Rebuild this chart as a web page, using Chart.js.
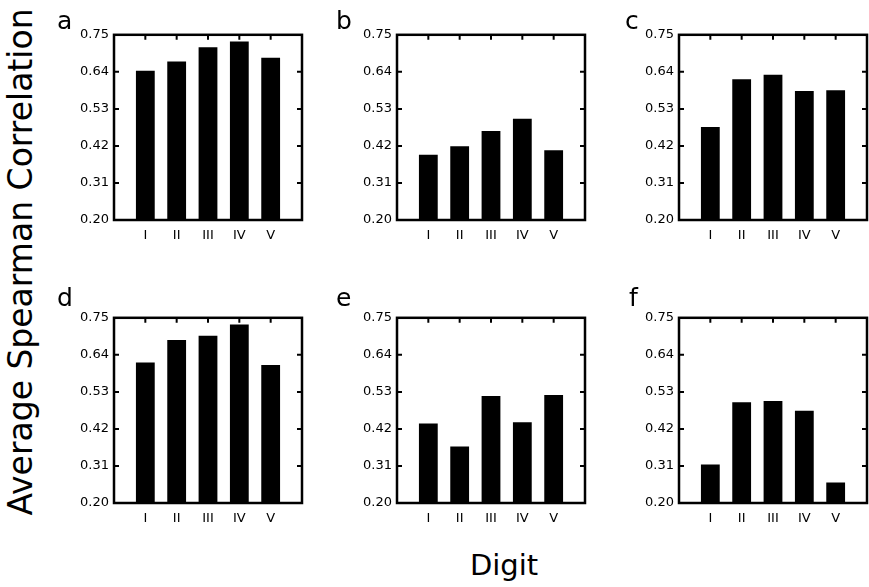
<!DOCTYPE html>
<html>
<head>
<meta charset="utf-8">
<script src="https://cdn.jsdelivr.net/npm/chart.js@4/dist/chart.umd.min.js"></script>
<style>
  html, body { margin: 0; padding: 0; background: #fff; }
  #page { position: relative; width: 869px; height: 587px; overflow: hidden; font-family: "DejaVu Sans", sans-serif; color: #000; }
  .panel { position: absolute; }
  .letter { position: absolute; font-size: 25px; line-height: 1; }
  #ytitle { position: absolute; left: 20px; top: 262px; font-size: 33px; line-height: 1; white-space: nowrap; transform: translate(-50%, -50%) rotate(-90deg); }
  #xtitle { position: absolute; left: 504px; top: 551px; font-size: 29px; line-height: 1; transform: translateX(-50%); }
</style>
</head>
<body>
<div id="page">
  <div id="ytitle">Average Spearman Correlation</div>
  <div id="xtitle">Digit</div>
</div>
<script>
// data
const digits = ["I", "II", "III", "IV", "V"];
const panelLetters = ["a", "b", "c", "d", "e", "f"];
const valuesA = [0.643, 0.671, 0.713, 0.730, 0.682];
const valuesB = [0.394, 0.419, 0.464, 0.501, 0.407];
const valuesC = [0.476, 0.618, 0.631, 0.583, 0.585];
const valuesD = [0.617, 0.684, 0.697, 0.730, 0.610];
const valuesE = [0.436, 0.368, 0.518, 0.440, 0.521];
const valuesF = [0.314, 0.499, 0.503, 0.474, 0.261];
const yTicks = [0.20, 0.31, 0.42, 0.53, 0.64, 0.75];

const allValues = [valuesA, valuesB, valuesC, valuesD, valuesE, valuesF];

// plot box of each panel: left, top, size
const boxes = [
  [114, 32], [397, 32], [679, 32],
  [114, 315], [397, 315], [679, 315]
];
const BOX = 188;
const letterPos = [
  [57, 8], [336, 8], [625, 8],
  [57, 285], [336, 285], [629, 285]
];
const TICK = 5;

const framePlugin = {
  id: "frame",
  afterDatasetsDraw(chart) {
    const { ctx, chartArea: a, scales: { x, y } } = chart;
    ctx.save();
    ctx.strokeStyle = "#000";
    ctx.lineWidth = 2.5;
    ctx.strokeRect(a.left, a.top, a.right - a.left, a.bottom - a.top);
    ctx.lineWidth = 2;
    ctx.beginPath();
    y.ticks.forEach((t) => {
      const py = y.getPixelForValue(t.value);
      if (py <= a.top + 1 || py >= a.bottom - 1) return;
      ctx.moveTo(a.left, py);
      ctx.lineTo(a.left + TICK, py);
      ctx.moveTo(a.right, py);
      ctx.lineTo(a.right - TICK, py);
    });
    digits.forEach((d, i) => {
      const px = x.getPixelForValue(i + 1);
      ctx.moveTo(px, a.top);
      ctx.lineTo(px, a.top + TICK);
    });
    ctx.stroke();
    ctx.restore();
  }
};

const page = document.getElementById("page");

allValues.forEach((vals, idx) => {
  const [bx, by] = boxes[idx];
  const wrap = document.createElement("div");
  wrap.className = "panel";
  wrap.style.left = (bx - 50) + "px";
  wrap.style.top = (by - 10) + "px";
  wrap.style.width = (BOX + 60) + "px";
  wrap.style.height = (BOX + 40) + "px";
  const canvas = document.createElement("canvas");
  wrap.appendChild(canvas);
  page.appendChild(wrap);

  const lt = document.createElement("div");
  lt.className = "letter";
  lt.textContent = panelLetters[idx];
  lt.style.left = letterPos[idx][0] + "px";
  lt.style.top = letterPos[idx][1] + "px";
  page.appendChild(lt);

  new Chart(canvas, {
    type: "bar",
    data: {
      labels: ["", ...digits, ""],
      datasets: [{
        data: [null, ...vals, null],
        backgroundColor: "#000",
        borderWidth: 0,
        categoryPercentage: 1,
        barPercentage: 0.6
      }]
    },
    options: {
      responsive: true,
      maintainAspectRatio: false,
      animation: false,
      events: [],
      layout: { padding: { top: 10, right: 10, left: 0, bottom: 0 } },
      plugins: { legend: { display: false }, tooltip: { enabled: false } },
      scales: {
        x: {
          offset: false,
          grid: { display: false, drawTicks: false },
          border: { display: false },
          ticks: {
            color: "#000",
            font: { family: "DejaVu Sans", size: 13 },
            padding: 8,
            autoSkip: false,
            maxRotation: 0
          },
          afterFit: (s) => { s.height = 30; }
        },
        y: {
          min: 0.2,
          max: 0.75,
          grid: { display: false, drawTicks: false },
          border: { display: false },
          afterBuildTicks: (s) => { s.ticks = yTicks.map((v) => ({ value: v })); },
          ticks: {
            color: "#000",
            font: { family: "DejaVu Sans", size: 13 },
            padding: 5,
            callback: (v) => Number(v).toFixed(2)
          },
          afterFit: (s) => { s.width = 50; }
        }
      }
    },
    plugins: [framePlugin]
  });
});
</script>
</body>
</html>
